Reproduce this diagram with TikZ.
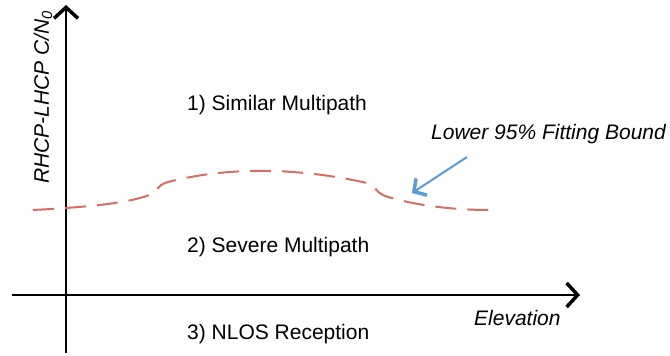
\documentclass[tikz,border=0pt]{standalone}
\usepackage{fontspec}
\setmainfont{Liberation Sans}
\usetikzlibrary{arrows.meta}
\definecolor{fitred}{RGB}{214,110,100}
\definecolor{arrblue}{RGB}{91,155,213}
\begin{document}
\begin{tikzpicture}[x=1pt,y=-1pt,
  axis/.style={line width=2pt,black},
  axtip/.style={-{Straight Barb[length=11pt,width=24pt,line width=3.5pt]}},
  fitline/.style={line width=2pt,fitred,dash pattern=on 21pt off 11pt},
  lbl/.style={font=\fontsize{21}{25}\selectfont,inner sep=0pt,anchor=west},
  ilbl/.style={font=\fontsize{21}{25}\selectfont\itshape,inner sep=0pt},
  pointer/.style={line width=2pt,arrblue,-{Straight Barb[length=9pt,width=20pt,line width=3.5pt]}}]
\useasboundingbox (0,0) rectangle (670,356);
\coordinate (ybot) at (66,353);
\coordinate (ytop) at (66,5);
\coordinate (xleft) at (12,295);
\coordinate (xright) at (580,295);
\draw[axis,axtip] (ybot) -- (ytop);
\draw[axis,axtip] (xleft) -- (xright);
\node[ilbl,rotate=90] (ylab) at (43,97) {RHCP-LHCP C/N\textsubscript{0}};
\node[ilbl,anchor=west] (xlab) at (474,318) {Elevation};
\node[lbl] (r1) at (187,105) {1) Similar Multipath};
\node[lbl] (r2) at (187,247) {2) Severe Multipath};
\node[lbl] (r3) at (187,334) {3) NLOS Reception};
\node[ilbl,anchor=west] (fitlab) at (431,134) {Lower 95\% Fitting Bound};
\coordinate (fa) at (33,210);
\coordinate (fb) at (490,210);
\draw[fitline] (fa) .. controls (90,207) and (130,203) .. (152,194)
  .. controls (160,190) and (155,186) .. (168,182)
  .. controls (230,166) and (300,168) .. (367,183)
  .. controls (378,186) and (372,190) .. (385,196)
  .. controls (420,207) and (460,210) .. (fb);
\coordinate (pa) at (467,157);
\coordinate (pb) at (412,193);
\draw[pointer] (pa) -- (pb);
\end{tikzpicture}
\end{document}
